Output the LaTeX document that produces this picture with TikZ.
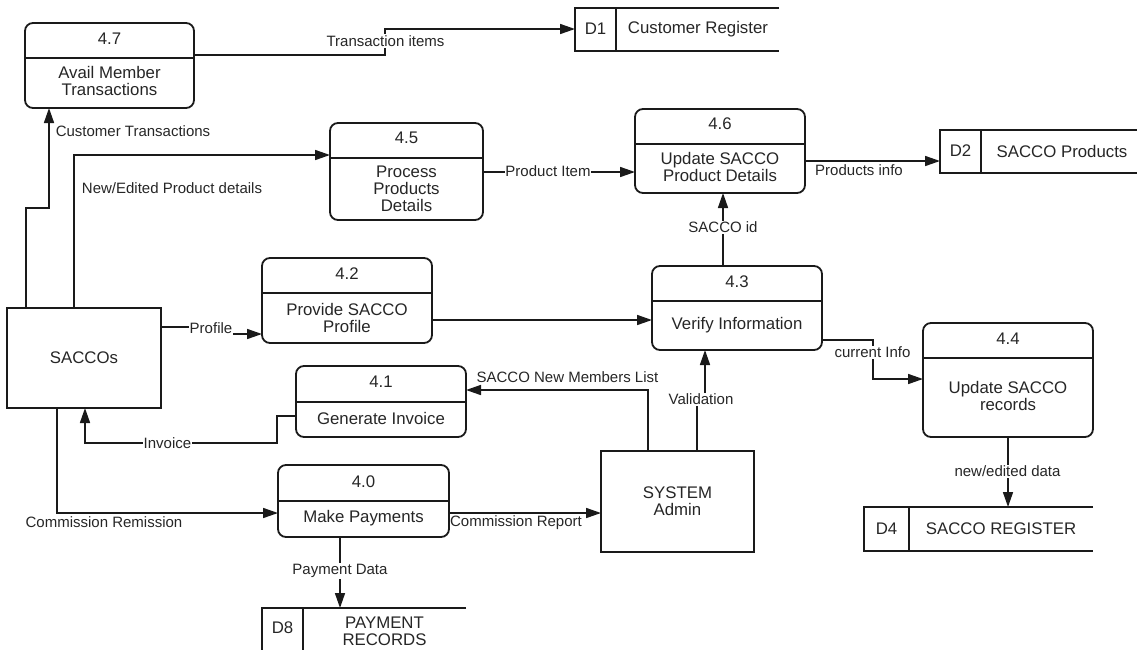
\documentclass[tikz,border=0pt]{standalone}
\usepackage{fontspec}
\setmainfont{Liberation Sans}
\usetikzlibrary{arrows.meta}
\definecolor{ink}{HTML}{1A1A1A}
\definecolor{txt}{HTML}{262626}
\begin{document}
\begin{tikzpicture}[x=1pt,y=-1pt,
  procbox/.style={draw=ink,line width=1.8pt,rounded corners=8pt,inner sep=0pt,outer sep=0pt},
  entbox/.style={draw=ink,line width=1.7pt,inner sep=0pt,outer sep=0pt,
    font=\fontsize{16.8}{17}\selectfont,align=center,text=txt},
  storebox/.style={inner sep=0pt,outer sep=0pt},
  storeline/.style={draw=ink,line width=1.5pt},
  divline/.style={draw=ink,line width=1.7pt},
  ptext/.style={font=\fontsize{16.8}{17}\selectfont,align=center,text=txt,inner sep=0pt},
  flow/.style={draw=ink,line width=1.6pt,-{Triangle[length=15pt,width=10pt]}},
  lbl/.style={font=\fontsize{15}{17}\selectfont,text=txt,inner sep=1pt},
  onl/.style={lbl,fill=white},
]
\useasboundingbox (0,0) rectangle (1137,649);

% ---------- processes ----------
\node[procbox,minimum width=169pt,minimum height=85pt] (p47) at (109.5,65.5) {};
\draw[divline] (p47.west |- 0,58) -- (p47.east |- 0,58);
\node[ptext] (t47id) at (109.5,39) {4.7};
\node[ptext] (t47) at (109.5,81) {Avail Member\\Transactions};

\node[procbox,minimum width=153pt,minimum height=97pt] (p45) at (406.5,171.5) {};
\draw[divline] (p45.west |- 0,158) -- (p45.east |- 0,158);
\node[ptext] (t45id) at (406.5,138) {4.5};
\node[ptext] (t45) at (406.5,189) {Process\\Products\\Details};

\node[procbox,minimum width=170pt,minimum height=84pt] (p46) at (720,151) {};
\draw[divline] (p46.west |- 0,144) -- (p46.east |- 0,144);
\node[ptext] (t46id) at (720,124) {4.6};
\node[ptext] (t46) at (720,167) {Update SACCO\\Product Details};

\node[procbox,minimum width=170pt,minimum height=85pt] (p42) at (347,300.5) {};
\draw[divline] (p42.west |- 0,293) -- (p42.east |- 0,293);
\node[ptext] (t42id) at (347,274) {4.2};
\node[ptext] (t42) at (347,317.5) {Provide SACCO\\Profile};

\node[procbox,minimum width=170pt,minimum height=84pt] (p43) at (737,308) {};
\draw[divline] (p43.west |- 0,301) -- (p43.east |- 0,301);
\node[ptext] (t43id) at (737,282) {4.3};
\node[ptext] (t43) at (737,325) {Verify Information};

\node[procbox,minimum width=170pt,minimum height=114pt] (p44) at (1008,380) {};
\draw[divline] (p44.west |- 0,358) -- (p44.east |- 0,358);
\node[ptext] (t44id) at (1008,339) {4.4};
\node[ptext] (t44) at (1008,395.5) {Update SACCO\\records};

\node[procbox,minimum width=170pt,minimum height=71pt] (p41) at (381,401.5) {};
\draw[divline] (p41.west |- 0,402) -- (p41.east |- 0,402);
\node[ptext] (t41id) at (381,382) {4.1};
\node[ptext] (t41) at (381,418) {Generate Invoice};

\node[procbox,minimum width=171pt,minimum height=72pt] (p40) at (363.5,501) {};
\draw[divline] (p40.west |- 0,501) -- (p40.east |- 0,501);
\node[ptext] (t40id) at (363.5,482) {4.0};
\node[ptext] (t40) at (363.5,518) {Make Payments};

% ---------- external entities ----------
\node[entbox,minimum width=154pt,minimum height=100pt] (sac) at (84,358) {SACCOs};
\node[entbox,minimum width=153pt,minimum height=101pt] (adm) at (677.5,501.5) {SYSTEM\\Admin};

% ---------- data stores ----------
\node[storebox,minimum width=204pt,minimum height=43pt] (ds1) at (677,29.5) {};
\draw[storeline] (ds1.north east) -- (ds1.north west) -- (ds1.south west) -- (ds1.south east);
\draw[storeline] (ds1.north -| 616,0) -- (ds1.south -| 616,0);
\node[ptext] (s1id) at (595.5,29) {D1};
\node[ptext] (s1) at (698,29) {Customer Register};

\node[storebox,minimum width=197pt,minimum height=43pt] (ds2) at (1038.5,151.5) {};
\draw[storeline] (ds2.north east) -- (ds2.north west) -- (ds2.south west) -- (ds2.south east);
\draw[storeline] (ds2.north -| 981,0) -- (ds2.south -| 981,0);
\node[ptext] (s2id) at (960.5,151) {D2};
\node[ptext] (s2) at (1062,151) {SACCO Products};

\node[storebox,minimum width=229pt,minimum height=44pt] (ds4) at (978.5,529) {};
\draw[storeline] (ds4.north east) -- (ds4.north west) -- (ds4.south west) -- (ds4.south east);
\draw[storeline] (ds4.north -| 909,0) -- (ds4.south -| 909,0);
\node[ptext] (s4id) at (886.5,529) {D4};
\node[ptext] (s4) at (1001,528.5) {SACCO REGISTER};

\node[storebox,minimum width=204pt,minimum height=52pt] (ds8) at (364,634) {};
\draw[storeline] (ds8.north east) -- (ds8.north west) -- (ds8.south west);
\draw[storeline] (ds8.north -| 303,0) -- (ds8.south -| 303,0);
\node[ptext] (s8id) at (282.5,628) {D8};
\node[ptext] (s8) at (384.5,631.5) {PAYMENT\\RECORDS};

% ---------- data flows ----------
\draw[flow] (p47.east |- 0,55) -- (385,55) -- (385,29) -- (ds1.west |- 0,29);
\node[onl] (l1) at (385.5,41) {Transaction items};

\draw[flow] (sac.north -| 26,0) -- (26,208) -- (49,208) -- (p47.south -| 49,0);
\node[lbl] (l2) at (133,131) {Customer Transactions};

\draw[flow] (sac.north -| 74,0) -- (74,155) -- (p45.west |- 0,155);
\node[lbl] (l3) at (172,188) {New/Edited Product details};

\draw[flow] (p45.east |- 0,172) -- (p46.west |- 0,172);
\node[onl,inner sep=0.5pt] (l4) at (548,171) {Product Item};

\draw[flow] (p46.east |- 0,161) -- (ds2.west |- 0,161);
\node[lbl] (l5) at (859,170) {Products info};

\draw[flow] (p43.north -| 723,0) -- (p46.south -| 723,0);
\node[onl] (l6) at (723,227.5) {SACCO id};

\draw[flow] (p42.east |- 0,320) -- (p43.west |- 0,320);

\draw[flow] (p43.east |- 0,340) -- (873,340) -- (873,379) -- (p44.west |- 0,379);
\node[onl] (l7) at (872.5,352) {current Info};

\draw[flow] (p44.south -| 1008,0) -- (ds4.north -| 1008,0);
\node[onl] (l8) at (1007.5,471) {new/edited data};

\draw[flow] (sac.east |- 0,327) -- (212,327) -- (212,334) -- (p42.west |- 0,334);
\node[onl,inner xsep=0.5pt,inner ysep=3pt] (l9) at (211,328) {Profile};

\draw[flow] (p41.west |- 0,416) -- (277,416) -- (277,443) -- (85,443) -- (sac.south -| 85,0);
\node[onl,inner sep=0.5pt] (l10) at (167.5,443) {Invoice};

\draw[flow] (adm.north -| 648,0) -- (648,390) -- (p41.east |- 0,390);
\node[lbl] (l11) at (567.5,377) {SACCO New Members List};

\draw[flow] (adm.north -| 697,0) -- (697,399) -- (705,399) -- (p43.south -| 705,0);
\node[onl] (l12) at (701,399) {Validation};

\draw[flow] (sac.south -| 57,0) -- (57,513) -- (p40.west |- 0,513);
\node[lbl] (l13) at (104,522) {Commission Remission};

\draw[flow] (p40.east |- 0,513) -- (adm.west |- 0,513);
\node[lbl] (l14) at (516,523) {Commission Report};

\draw[flow] (p40.south -| 340,0) -- (ds8.north -| 340,0);
\node[onl] (l15) at (340,571) {Payment Data};
\end{tikzpicture}
\end{document}
